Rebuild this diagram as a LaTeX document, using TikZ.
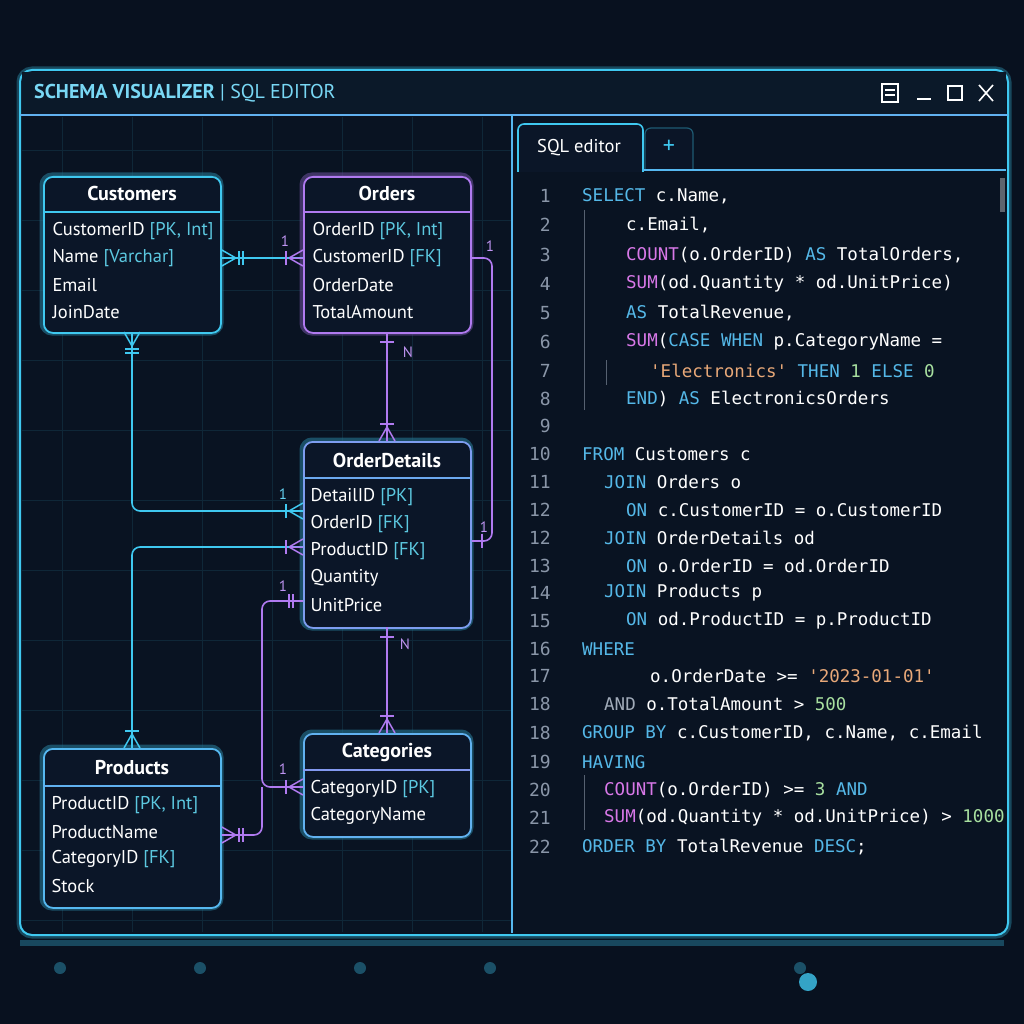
\documentclass[tikz,border=0pt]{standalone}
\usepackage{fontspec}
\setmainfont{PT Sans}
\newfontfamily\cmono{DejaVu Sans Mono}
\usetikzlibrary{calc}
\definecolor{bg}{HTML}{08111F}
\definecolor{panel}{HTML}{0B1628}
\definecolor{cy}{HTML}{3FC8F0}
\definecolor{pu}{HTML}{B07AF0}
\definecolor{kwc}{HTML}{55B8E8}
\definecolor{fnc}{HTML}{D878E8}
\definecolor{stc}{HTML}{E8A878}
\definecolor{nuc}{HTML}{A8E0A0}
\definecolor{lnc}{HTML}{8A96A8}
\definecolor{brc}{HTML}{5CC8E0}
\newcommand\ckw[1]{\textcolor{kwc}{#1}}
\newcommand\cfn[1]{\textcolor{fnc}{#1}}
\newcommand\cst[1]{\textcolor{stc}{#1}}
\newcommand\cnum[1]{\textcolor{nuc}{#1}}
\newcommand\cbr[1]{\textcolor{brc}{#1}}
\newcommand\cfoot[4]{\begin{scope}[shift={(#1)},rotate=#2,#4]
\draw (0,-8)--(14,0) (0,8)--(14,0) (0,0)--(14,0);
\ifnum#3>0 \draw (17,-7)--(17,7);\fi
\ifnum#3>1 \draw (21,-7)--(21,7);\fi
\end{scope}}
\newcommand\ticks[4]{\begin{scope}[shift={(#1)},rotate=#2,#4]
\ifnum#3>0 \draw (10,-7)--(10,7);\fi
\ifnum#3>1 \draw (14,-7)--(14,7);\fi
\end{scope}}
\begin{document}
\begin{tikzpicture}[x=1pt,y=-1pt,
  tbl/.style={draw=#1,line width=1.8pt,rounded corners=9pt,fill=panel,anchor=north west,inner sep=0},
  ttl/.style={font=\bfseries\fontsize{20}{22}\selectfont,text=white},
  row/.style={font=\fontsize{18.5}{20}\selectfont,text=white!92,anchor=west},
  lbl/.style={font=\fontsize{15}{16}\selectfont,text=#1!80!white},
  con/.style={line width=1.6pt,draw=#1,rounded corners=8pt},
  code/.style={font=\cmono\fontsize{17.5}{20}\selectfont,text=white!93,anchor=west,inner sep=0},
  ln/.style={font=\cmono\fontsize{18}{20}\selectfont,text=lnc,anchor=east,inner sep=0}]
\useasboundingbox (0,0) rectangle (1024,1024);
\fill[bg] (0,0) rectangle (1024,1024);
% outer decoration
\fill[cy!30!bg] (20,940) rectangle (1004,946);
\foreach \xx in {60,200,360,490,800}{\fill[cy,opacity=0.35] (\xx,968) circle (6);}
\fill[cy,opacity=0.8] (808,982) circle (9);
% window
\draw[cy!50!bg,line width=7pt,rounded corners=12pt,opacity=0.6] (20,70) rectangle (1008,935);
\draw[cy,line width=2pt,rounded corners=12pt,fill=bg!70!panel] (20,70) rectangle (1008,935);
\fill[panel!80!cy!20!bg] (22,72) rectangle (1006,115);
\draw[cy!70!pu,line width=1.5pt] (20,115) -- (1008,115);
\node[anchor=west,inner sep=0,font=\fontsize{20}{22}\selectfont,text=cy!70!white] (title) at (34,93) {\textbf{SCHEMA VISUALIZER} | SQL EDITOR};
% window icons
\draw[white!75,line width=1.4pt] (882,84) rectangle (898,102);
\draw[white!75,line width=1.2pt] (885,90)--(895,90) (885,95)--(895,95);
\draw[white!75,line width=1.6pt] (917,99)--(931,99);
\draw[white!75,line width=1.6pt] (948,86) rectangle (962,100);
\draw[white!75,line width=1.6pt] (979,85)--(993,101) (993,85)--(979,101);
% grid in left pane
\begin{scope}
\clip (22,117) rectangle (511,932);
\foreach \gx in {62,132,202,272,342,412,482}{\draw[cy!12!bg,line width=0.6pt] (\gx,117)--(\gx,932);}
\foreach \gy in {150,220,290,360,430,500,570,640,710,780,850,920}{\draw[cy!12!bg,line width=0.6pt] (22,\gy)--(511,\gy);}
\end{scope}
% divider
\draw[cy!80!pu,line width=1.6pt] (512,115)--(512,933);
% tabs
\draw[cy,line width=1.6pt,fill=panel,rounded corners=6pt] (518,172)--(518,124)--(643,124)--(643,172);
\draw[cy!40!bg,line width=1.2pt,fill=panel!90!bg,rounded corners=6pt] (645,170)--(645,128)--(693,128)--(693,170);
\node[font=\fontsize{18.5}{20}\selectfont,text=white] (tab) at (579,148) {SQL editor};
\node[font=\fontsize{24}{24}\selectfont,text=cy] (plus) at (669,147) {+};
\draw[cy!80!pu,line width=1.4pt] (643,170)--(1006,170);
\fill[white!35!bg] (1000,178) rectangle (1005,212);
% indent guides
\draw[lnc!60!bg,line width=1pt] (584,210)--(584,410) (606,360)--(606,385);
% code
\begin{scope}
\clip (514,172) rectangle (1006,930);
\foreach \n/\yy in {1/196,2/225,3/255,4/284,5/313,6/342,7/371,8/399,9/426,10/454,11/482,12/510,12/538,13/566,14/593,15/621,16/649,17/676,18/704,18/733,19/762,20/790,21/818,22/847}{\node[ln] at (551,\yy) {\n};}
\node[code] (c1) at (582,196) {\ckw{SELECT} c.Name,};
\node[code] (c2) at (626,225) {c.Email,};
\node[code] (c3) at (626,255) {\cfn{COUNT}(o.OrderID) \ckw{AS} TotalOrders,};
\node[code] (c4) at (626,284) {\cfn{SUM}(od.Quantity * od.UnitPrice)};
\node[code] (c5) at (626,313) {\ckw{AS} TotalRevenue,};
\node[code] (c6) at (626,342) {\cfn{SUM}(\ckw{CASE} \ckw{WHEN} p.CategoryName =};
\node[code] (c7) at (650,371) {\cst{'Electronics'} \ckw{THEN} \cnum{1} \ckw{ELSE} \cnum{0}};
\node[code] (c8) at (626,399) {\ckw{END}) \ckw{AS} ElectronicsOrders};
\node[code] (c10) at (582,454) {\ckw{FROM} Customers c};
\node[code] (c11) at (604,482) {\ckw{JOIN} Orders o};
\node[code] (c12) at (626,510) {\ckw{ON} c.CustomerID = o.CustomerID};
\node[code] (c12b) at (604,538) {\ckw{JOIN} OrderDetails od};
\node[code] (c13) at (626,566) {\ckw{ON} o.OrderID = od.OrderID};
\node[code] (c14) at (604,593) {\ckw{JOIN} Products p};
\node[code] (c15) at (626,621) {\ckw{ON} od.ProductID = p.ProductID};
\node[code] (c16) at (582,649) {\ckw{WHERE}};
\node[code] (c17) at (650,676) {o.OrderDate >= \cst{'2023-01-01'}};
\node[code] (c18) at (604,704) {\textcolor{lnc!80!white}{AND} o.TotalAmount > \cnum{500}};
\node[code] (c18b) at (582,733) {\ckw{GROUP BY} c.CustomerID, c.Name, c.Email};
\node[code] (c19) at (582,762) {\ckw{HAVING}};
\node[code] (c20) at (604,790) {\cfn{COUNT}(o.OrderID) >= \cnum{3} \ckw{AND}};
\node[code] (c21) at (604,818) {\cfn{SUM}(od.Quantity * od.UnitPrice) > \cnum{1000}};
\node[code] (c22) at (582,847) {\ckw{ORDER BY} TotalRevenue \ckw{DESC};};
\end{scope}
\draw[lnc!60!bg,line width=1pt] (584,775)--(584,830);
% tables glow + body
\foreach \px/\py/\w/\h/\cc in {43/176/177/156/cy,303/176/167/156/pu,303/441/167/186/cy,43/748/177/159/cy,303/733/167/103/cy}{
  \draw[\cc!55!bg,line width=7pt,rounded corners=9pt,opacity=0.6] (\px,\py) rectangle ++(\w,\h);}
\node[tbl=cy,minimum width=177pt,minimum height=156pt] (cust) at (43,176) {};
\node[tbl=pu,minimum width=167pt,minimum height=156pt] (ord) at (303,176) {};
\node[tbl=cy!45!pu,minimum width=167pt,minimum height=186pt] (od) at (303,441) {};
\node[tbl=cy!80!pu,minimum width=177pt,minimum height=159pt] (prod) at (43,748) {};
\node[tbl=cy!70!pu,minimum width=167pt,minimum height=103pt] (cat) at (303,733) {};
\draw[cy,line width=1.5pt] (43,212)--(220,212);
\draw[pu,line width=1.5pt] (303,212)--(470,212);
\draw[cy!60!pu,line width=1.5pt] (303,478)--(470,478);
\draw[cy!70!pu,line width=1.5pt] (43,786)--(220,786);
\draw[cy!40!pu,line width=1.5pt] (303,770)--(470,770);
% titles
\node[ttl] (tc) at (132,194) {Customers};
\node[ttl] (to) at (387,194) {Orders};
\node[ttl] (tod) at (387,460) {OrderDetails};
\node[ttl] (tp) at (132,768) {Products};
\node[ttl] (tcat) at (387,752) {Categories};
% rows
\node[row] at (49,231) {CustomerID \cbr{[PK, Int]}};
\node[row] at (49,258) {Name \cbr{[Varchar]}};
\node[row] at (49,285) {Email};
\node[row] at (49,312) {JoinDate};
\node[row] at (309,231) {OrderID \cbr{[PK, Int]}};
\node[row] at (309,258) {CustomerID \cbr{[FK]}};
\node[row] at (309,285) {OrderDate};
\node[row] at (309,312) {TotalAmount};
\node[row] at (307,497) {DetailID \cbr{[PK]}};
\node[row] at (307,524) {OrderID \cbr{[FK]}};
\node[row] at (307,551) {ProductID \cbr{[FK]}};
\node[row] at (307,578) {Quantity};
\node[row] at (307,605) {UnitPrice};
\node[row] at (48,805) {ProductID \cbr{[PK, Int]}};
\node[row] at (48,832) {ProductName};
\node[row] at (48,859) {CategoryID \cbr{[FK]}};
\node[row] at (48,886) {Stock};
\node[row] at (307,789) {CategoryID \cbr{[PK]}};
\node[row] at (307,816) {CategoryName};
% ports
\coordinate (cR) at (cust.east |- 0,258);
\coordinate (oL) at (ord.west |- 0,258);
\coordinate (cB) at (132,332);
\coordinate (odL1) at (od.west |- 0,511);
\coordinate (oR) at (ord.east |- 0,258);
\coordinate (odR) at (od.east |- 0,541);
\coordinate (oB) at (387,332);
\coordinate (odT) at (387,441);
\coordinate (pT) at (132,748);
\coordinate (odL2) at (od.west |- 0,547);
\coordinate (odL3) at (od.west |- 0,601);
\coordinate (catL) at (cat.west |- 0,787);
\coordinate (pR) at (prod.east |- 0,835);
\coordinate (odB) at (387,627);
\coordinate (catT) at (387,733);
\coordinate (jn) at (262,787);
% connectors
\draw[con=cy] (cR) -- (oL);
\draw[con=cy] (cB) |- (odL1);
\draw[con=pu] (oR) -| (492,541) -- (odR);
\draw[con=pu] (oB) -- (odT);
\draw[con=cy] (pT) |- (odL2);
\draw[con=pu] (odL3) -| (jn) -- (catL);
\draw[con=pu] (pR) -| (jn);
\draw[con=pu] (odB) -- (catT);
% ends
\cfoot{cR}{0}{2}{line width=1.5pt,draw=cy}
\cfoot{oL}{180}{1}{line width=1.5pt,draw=pu}
\cfoot{cB}{-90}{2}{line width=1.5pt,draw=cy}
\cfoot{odL1}{180}{1}{line width=1.5pt,draw=cy}
\cfoot{odL2}{180}{1}{line width=1.5pt,draw=pu}
\cfoot{pT}{90}{1}{line width=1.5pt,draw=cy}
\ticks{oB}{-90}{1}{line width=1.5pt,draw=pu}
\cfoot{odT}{90}{1}{line width=1.5pt,draw=pu}
\ticks{odR}{0}{1}{line width=1.5pt,draw=pu}
\ticks{odL3}{180}{2}{line width=1.5pt,draw=pu}
\cfoot{catL}{180}{1}{line width=1.5pt,draw=pu}
\cfoot{pR}{0}{2}{line width=1.5pt,draw=pu}
\ticks{odB}{-90}{1}{line width=1.5pt,draw=pu}
\cfoot{catT}{90}{1}{line width=1.5pt,draw=pu}
% cardinality labels
\node[lbl=pu] at (285,241) {1};
\node[lbl=pu] at (490,246) {1};
\node[lbl=pu] at (408,352) {N};
\node[lbl=cy] at (283,494) {1};
\node[lbl=pu] at (484,527) {1};
\node[lbl=pu] at (283,586) {1};
\node[lbl=pu] at (405,644) {N};
\node[lbl=pu] at (283,769) {1};
\end{tikzpicture}
\end{document}
